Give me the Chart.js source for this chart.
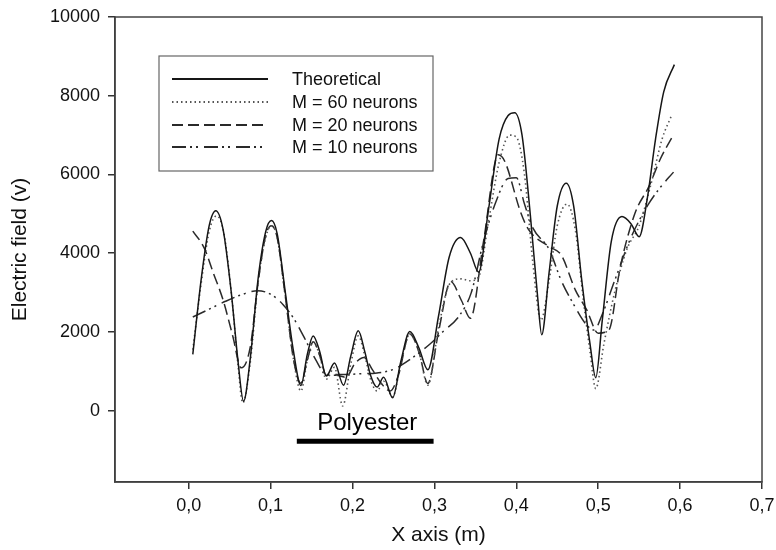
<!DOCTYPE html>
<html lang="en">
  <head>
    <meta charset="UTF-8" />
    <title>Electric field</title>
    <script src="https://cdn.jsdelivr.net/npm/chart.js@4/dist/chart.umd.min.js"></script>
    <style>
      html, body { margin: 0; padding: 0; background: #fff; }
      #wrap { width: 776px; height: 550px; }
    </style>
  </head>
  <body>
    <div id="wrap"><canvas id="fieldChart" width="776" height="550"></canvas></div>

    <script>
      // values: x in metres, y in volts
      const theoX = [0.005, 0.015, 0.025, 0.033, 0.042, 0.052, 0.060, 0.067, 0.075, 0.085, 0.094, 0.101, 0.108, 0.118, 0.128, 0.137, 0.145, 0.152, 0.160, 0.168, 0.178, 0.189, 0.198, 0.207, 0.215, 0.222, 0.230, 0.238, 0.249, 0.259, 0.270, 0.281, 0.292, 0.305, 0.318, 0.332, 0.344, 0.354, 0.366, 0.379, 0.390, 0.398, 0.407, 0.417, 0.426, 0.431, 0.440, 0.450, 0.461, 0.470, 0.480, 0.490, 0.497, 0.505, 0.516, 0.529, 0.540, 0.550, 0.560, 0.570, 0.580, 0.593];
      const theoY = [1430, 3300, 4700, 5080, 4600, 3000, 1300, 240, 1300, 3400, 4550, 4830, 4500, 3000, 1500, 640, 1450, 1900, 1500, 880, 1210, 650, 1400, 2030, 1500, 900, 600, 850, 330, 1250, 2010, 1600, 1040, 2400, 3900, 4400, 4000, 3520, 5100, 6900, 7500, 7570, 7000, 5000, 2900, 1930, 3500, 5200, 5780, 5200, 3300, 1700, 840, 2300, 4300, 4930, 4750, 4420, 5400, 6900, 8100, 8790];

      const m60X = [0.005, 0.015, 0.025, 0.034, 0.043, 0.053, 0.060, 0.066, 0.075, 0.085, 0.094, 0.101, 0.108, 0.118, 0.128, 0.137, 0.145, 0.152, 0.160, 0.168, 0.178, 0.188, 0.198, 0.207, 0.215, 0.222, 0.230, 0.238, 0.249, 0.259, 0.270, 0.281, 0.292, 0.305, 0.318, 0.332, 0.344, 0.354, 0.366, 0.379, 0.392, 0.400, 0.410, 0.420, 0.430, 0.440, 0.450, 0.462, 0.472, 0.482, 0.490, 0.497, 0.507, 0.520, 0.535, 0.550, 0.565, 0.578, 0.590];
      const m60Y = [1550, 3200, 4550, 4950, 4500, 2800, 1200, 200, 1200, 3300, 4400, 4700, 4400, 2900, 1300, 500, 1300, 1750, 1400, 800, 1100, 120, 1200, 1900, 1400, 800, 500, 750, 350, 1200, 1950, 1500, 650, 2100, 3200, 3350, 3300, 3400, 4800, 6300, 7000, 6950, 6000, 3800, 2300, 3300, 4700, 5250, 4600, 2800, 1500, 560, 1700, 3000, 4100, 4700, 5800, 6900, 7520];

      const m20X = [0.005, 0.019, 0.030, 0.042, 0.054, 0.064, 0.075, 0.085, 0.094, 0.101, 0.108, 0.118, 0.128, 0.137, 0.145, 0.152, 0.160, 0.168, 0.180, 0.192, 0.203, 0.214, 0.224, 0.235, 0.246, 0.256, 0.270, 0.281, 0.292, 0.305, 0.320, 0.333, 0.344, 0.360, 0.378, 0.386, 0.405, 0.415, 0.440, 0.455, 0.472, 0.486, 0.500, 0.513, 0.527, 0.545, 0.562, 0.576, 0.592];
      const m20Y = [4560, 4130, 3500, 2810, 1880, 1090, 1600, 3300, 4450, 4700, 4400, 2900, 1300, 700, 1300, 1750, 1400, 900, 900, 850, 1200, 1350, 1050, 700, 500, 900, 1950, 1500, 690, 2000, 3280, 2800, 2350, 4300, 6500, 6330, 5060, 4600, 4170, 3950, 3070, 2560, 1970, 2050, 3660, 5020, 5700, 6400, 7010];

      const m10X = [0.005, 0.025, 0.045, 0.065, 0.084, 0.100, 0.115, 0.128, 0.140, 0.155, 0.168, 0.190, 0.210, 0.230, 0.250, 0.270, 0.295, 0.310, 0.330, 0.345, 0.360, 0.375, 0.390, 0.400, 0.410, 0.420, 0.440, 0.455, 0.470, 0.485, 0.495, 0.505, 0.520, 0.540, 0.560, 0.575, 0.592];
      const m10Y = [2380, 2580, 2780, 2950, 3050, 2960, 2700, 2350, 1900, 1300, 920, 920, 940, 960, 1050, 1300, 1700, 2000, 2400, 3000, 4300, 5300, 5900, 5920, 5250, 4650, 4100, 3300, 2700, 2200, 2050, 2450, 3300, 4400, 5200, 5650, 6060];

      const seriesNames = ["Theoretical", "M = 60 neurons", "M = 20 neurons", "M = 10 neurons"];
      const xTicks = [0, 0.1, 0.2, 0.3, 0.4, 0.5, 0.6, 0.7];
      const yTicks = [0, 2000, 4000, 6000, 8000, 10000];

      // polyester region marker
      const polyX = [0.132, 0.299];
      const polyY = [-776, -776];
      const polyLabel = "Polyester";

      const FONT = "'Liberation Sans', Arial, sans-serif";

      function pts(xs, ys) {
        return xs.map(function (x, i) { return { x: x, y: ys[i] }; });
      }

      const dashes = [[], [1.5, 3], [11, 5], [14, 4, 2, 4, 2, 6]];
      const colors = ["#161616", "#555555", "#2a2a2a", "#2a2a2a"];
      const widths = [1.5, 1.6, 1.5, 1.5];
      const seriesData = [pts(theoX, theoY), pts(m60X, m60Y), pts(m20X, m20Y), pts(m10X, m10Y)];

      const datasets = seriesData.map(function (d, i) {
        return {
          label: seriesNames[i],
          data: d,
          showLine: true,
          borderColor: colors[i],
          borderWidth: widths[i],
          borderDash: dashes[i],
          pointRadius: 0,
          cubicInterpolationMode: "monotone",
          fill: false,
        };
      });
      datasets.push({
        label: "polyester",
        data: pts(polyX, polyY),
        showLine: true,
        borderColor: "#000",
        borderWidth: 5,
        pointRadius: 0,
      });

      // frame, legend box and the Polyester label
      const extras = {
        id: "extras",
        afterDatasetsDraw(chart) {
          const ctx = chart.ctx;
          const a = chart.chartArea;
          const xs = chart.scales.x;
          const ys = chart.scales.y;

          ctx.save();
          ctx.strokeStyle = "#444";
          ctx.lineWidth = 1.5;
          ctx.strokeRect(a.left, a.top, a.right - a.left, a.bottom - a.top);

          ctx.fillStyle = "#000";
          ctx.font = "24px " + FONT;
          ctx.textAlign = "center";
          ctx.textBaseline = "middle";
          ctx.fillText(polyLabel, xs.getPixelForValue(0.218), ys.getPixelForValue(-318));

          // legend
          const bx = 159, by = 56, bw = 274, bh = 115;
          ctx.fillStyle = "#fff";
          ctx.fillRect(bx, by, bw, bh);
          ctx.strokeStyle = "#666";
          ctx.lineWidth = 1.2;
          ctx.strokeRect(bx, by, bw, bh);
          ctx.font = "18px " + FONT;
          ctx.textAlign = "left";
          ctx.fillStyle = "#111";
          const rows = [79, 102, 125, 147];
          for (let i = 0; i < 4; i++) {
            ctx.beginPath();
            ctx.setLineDash(dashes[i]);
            ctx.strokeStyle = colors[i];
            ctx.lineWidth = widths[i] + 0.3;
            ctx.moveTo(172, rows[i]);
            ctx.lineTo(268, rows[i]);
            ctx.stroke();
            ctx.setLineDash([]);
            ctx.fillText(seriesNames[i], 292, rows[i] + 1);
          }
          ctx.restore();
        },
      };

      const config = {
        type: "scatter",
        data: { datasets: datasets },
        options: {
          responsive: false,
          animation: false,
          layout: { padding: { left: 0, top: 17, right: 14, bottom: 0 } },
          plugins: { legend: { display: false }, tooltip: { enabled: false } },
          scales: {
            x: {
              type: "linear",
              min: -0.09,
              max: 0.7,
              afterBuildTicks: function (scale) {
                scale.ticks = xTicks.map(function (v) { return { value: v }; });
              },
              afterFit: function (scale) {
                scale.height = 68;
                scale.paddingLeft = 0;
                scale.paddingRight = 0;
              },
              ticks: {
                color: "#111",
                font: { family: FONT, size: 18 },
                padding: 6,
                maxRotation: 0,
                callback: function (v) { return Number(v).toFixed(1).replace(".", ","); },
              },
              grid: { drawOnChartArea: false, drawTicks: true, tickLength: 7, color: "#333", lineWidth: 1.5 },
              border: { display: true, color: "#333", width: 1.5 },
              title: {
                display: true,
                text: "X axis (m)",
                color: "#111",
                font: { family: FONT, size: 21 },
                padding: { top: 0, bottom: 2 },
              },
            },
            y: {
              type: "linear",
              min: -1810,
              max: 10000,
              afterBuildTicks: function (scale) {
                scale.ticks = yTicks.map(function (v) { return { value: v }; });
              },
              afterFit: function (scale) {
                scale.width = 115;
                scale.paddingTop = 0;
                scale.paddingBottom = 0;
              },
              ticks: {
                color: "#111",
                font: { family: FONT, size: 18 },
                padding: 8,
                callback: function (v) { return String(v); },
              },
              grid: { drawOnChartArea: false, drawTicks: true, tickLength: 7, color: "#333", lineWidth: 1.5 },
              border: { display: true, color: "#333", width: 1.5 },
              title: {
                display: true,
                text: "Electric field (v)",
                color: "#111",
                font: { family: FONT, size: 21 },
                padding: { top: 8, bottom: 0 },
              },
            },
          },
        },
        plugins: [extras],
      };

      const fieldChart = new Chart(document.getElementById("fieldChart"), config);
    </script>
  </body>
</html>
